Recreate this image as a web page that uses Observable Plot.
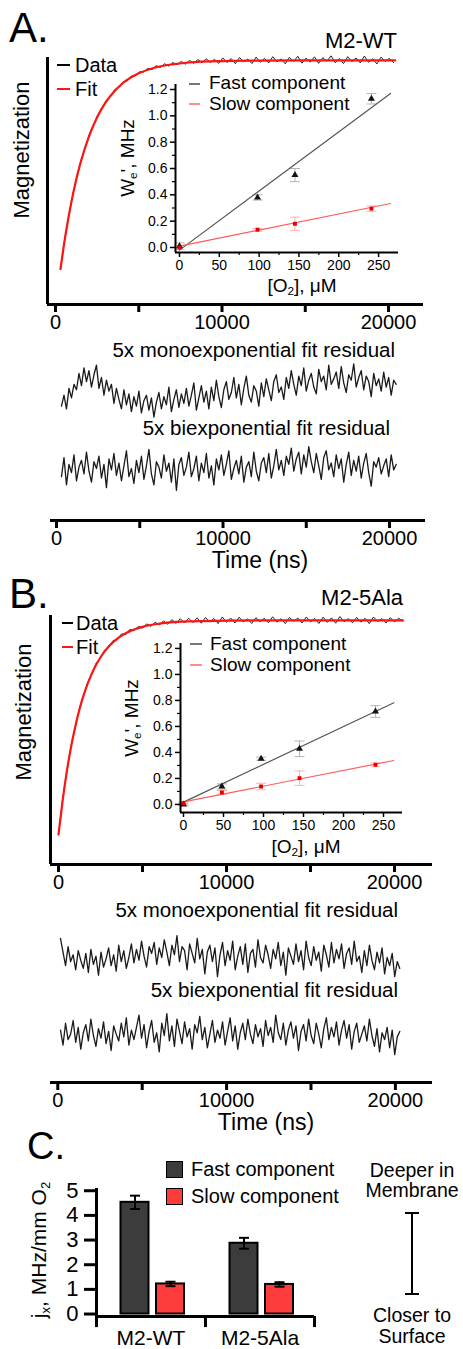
<!DOCTYPE html>
<html><head><meta charset="utf-8">
<script src="https://cdn.jsdelivr.net/npm/d3@7"></script>
<script src="https://cdn.jsdelivr.net/npm/@observablehq/plot@0.6"></script>
<style>
html,body{margin:0;padding:0;background:#fff;}
#fig{position:relative;width:463px;height:1349px;overflow:hidden;font-family:"Liberation Sans",Arial,sans-serif;color:#000;background:#fff;}
#fig svg{position:absolute;}
.t{position:absolute;white-space:nowrap;line-height:0.82;}
.t sub{font-size:0.62em;vertical-align:-0.25em;line-height:0;}
.ln{position:absolute;}
</style></head><body><div id="fig"></div>
<script>
// ---------------- DATA ----------------
const timeTicks = [0, 5000, 10000, 15000, 20000];
const o2Ticks = [0, 50, 100, 150, 200, 250];
const o2Minor = [25, 75, 125, 175, 225];
const weTicks = [0, 0.2, 0.4, 0.6, 0.8, 1.0, 1.2];
const weMinor = [0.1, 0.3, 0.5, 0.7, 0.9, 1.1];
const jxTicks = [0, 1, 2, 3, 4, 5];

// Panel A : magnetization recovery (normalized)
const dataStartA = 300, dataStepA = 250;
const dataA = [0.000,0.140,0.252,0.362,0.444,0.527,0.585,0.650,0.690,0.741,
0.768,0.808,0.826,0.860,0.869,0.897,0.901,0.925,0.926,0.946,
0.944,0.962,0.956,0.975,0.966,0.984,0.973,0.990,0.979,0.995,
0.982,1.000,0.986,1.004,0.989,1.008,0.990,1.005,0.986,1.012,
0.990,1.009,0.984,1.014,0.993,1.006,0.985,1.016,0.991,1.010,
0.988,1.018,0.993,1.007,0.984,1.015,0.995,1.020,0.987,1.011,
0.992,1.017,0.986,1.013,0.996,1.022,0.989,1.009,0.985,1.018,
0.994,1.012,0.988,1.021,0.991,1.008,0.983,1.016,0.995,1.010,
0.990];
const fitTimeA = [300,500,750,1000,1250,1500,2000,2500,3000,3500,4000,5000,6000,7000,8000,10000,12000,15000,20400];
const fitMagA = [0,0.112,0.234,0.339,0.430,0.508,0.634,0.728,0.798,0.849,0.888,0.938,0.966,0.981,0.990,0.997,0.999,1,1];

// Panel A inset
const o2A = [0, 98, 145, 241];
const fastA = [0.01, 0.38, 0.55, 1.13];
const fastErrA = [0.025, 0.02, 0.05, 0.04];
const slowA = [0.0, 0.135, 0.18, 0.295];
const slowErrA = [0.015, 0.01, 0.05, 0.02];
const fitO2A = [0, 265];
const fastFitA = [-0.02, 1.17];
const slowFitA = [0.01, 0.334];

// Panel A residuals (5x, arbitrary units)
const resStartA = 300, resStepA = 150;
const resMonoA = [-10,-2,-12,3,-4,6,2,14,5,18,
8,16,4,13,20,3,11,-2,9,1,
6,-8,3,-5,-12,2,-9,-1,-14,-3,
-10,1,-15,-6,-2,-13,-4,-18,-7,0,
-12,-3,-9,4,-14,-5,2,-11,-1,-8,
3,-10,-2,7,-13,-4,5,-7,1,-12,
4,-6,9,-3,-11,2,8,-5,0,11,
-4,6,-9,3,12,-2,-7,5,1,-10,
7,-3,10,2,-6,8,13,0,4,-5,
11,3,16,6,-2,12,5,18,1,9,
14,4,-1,17,8,12,2,20,6,10,
15,3,19,7,0,13,9,21,4,11,
16,2,12,8,-3,14,5,10,1,15,
4,11,-2,9,6];
const resBiA = [-6,8,-12,3,-3,10,-9,1,6,-4,
12,-2,-10,5,0,9,-7,3,-14,7,
-1,11,-5,4,-9,2,13,-6,0,-11,
6,-3,9,-8,2,14,-4,-12,5,1,
-7,10,-2,4,-10,7,-16,3,8,-5,
1,12,-6,0,9,-9,4,-3,11,-7,
2,-12,7,-1,10,-5,3,13,-8,0,
6,-4,9,-10,1,5,-6,12,-2,-9,
4,8,-3,11,-7,2,14,-1,6,-5,
9,3,15,-2,7,12,-4,10,1,16,
5,-3,11,2,-8,8,13,-1,4,-6,
10,0,7,-10,3,12,-5,6,-2,9,
-7,4,11,-3,-13,5,1,8,-4,2,
7,-6,10,-1,3];

// Panel B : magnetization recovery
const dataStartB = 0, dataStepB = 250;
const dataB = [0.000,0.165,0.293,0.415,0.500,0.590,0.648,0.714,0.750,0.802,
0.823,0.862,0.874,0.906,0.910,0.937,0.934,0.958,0.952,0.972,
0.964,0.984,0.972,0.992,0.978,0.998,0.982,1.004,0.986,1.008,
0.988,1.010,0.990,1.012,0.987,1.014,0.992,1.009,0.985,1.016,
0.991,1.011,0.988,1.015,0.993,1.007,0.986,1.013,0.994,1.010,
0.989,1.017,0.992,1.008,0.985,1.014,0.996,1.011,0.988,1.016,
0.993,1.009,0.986,1.015,0.991,1.012,0.987,1.018,0.994,1.008,
0.989,1.014,0.992,1.010,0.985,1.016,0.995,1.009,0.988,1.013,
0.993,1.010,0.996];
const fitTimeB = [0,250,500,750,1000,1250,1500,2000,2500,3000,3500,4000,5000,6000,7000,8000,10000,12000,15000,20500];
const fitMagB = [0,0.161,0.297,0.410,0.505,0.585,0.652,0.755,0.828,0.879,0.915,0.940,0.970,0.985,0.993,0.996,0.999,1,1,1];

// Panel B inset
const o2B = [0, 48, 97, 145, 240];
const fastB = [0.0, 0.138, 0.352, 0.428, 0.715];
const fastErrB = [0.01, 0.02, 0.012, 0.06, 0.045];
const slowB = [0.01, 0.092, 0.138, 0.202, 0.305];
const slowErrB = [0.01, 0.015, 0.025, 0.055, 0.015];
const fitO2B = [0, 263];
const fastFitB = [0.018, 0.782];
const slowFitB = [0.02, 0.338];

// Panel B residuals
const resStartB = 160, resStepB = 150;
const resMonoB = [14,4,-6,8,-3,2,-9,5,-2,-8,
3,-11,6,-5,1,-13,4,-7,-1,7,
-6,2,-10,9,-3,5,-8,0,10,-4,
6,-2,12,1,-7,8,3,11,-5,7,
0,13,4,-6,9,2,16,-3,8,5,
-9,10,3,-4,14,-1,6,-12,4,9,
-3,7,-14,2,11,-6,5,-2,12,-9,
1,8,-5,10,-11,3,6,-7,13,0,
-4,9,2,-8,6,-1,11,-6,4,-13,
7,1,-5,10,-3,5,-9,12,0,-6,
8,-2,4,-10,9,2,-7,11,-4,6,
-1,10,-8,3,7,-5,12,-3,1,-11,
5,-6,9,-2,-9,4,-4,7,-12,0,
-6,3,-14,-3,-8];
const resBiB = [4,-7,9,-3,1,11,-5,6,-10,2,
8,-4,12,0,-8,5,-2,10,-6,3,
-11,7,1,-4,9,-1,13,-7,4,-3,
6,15,-2,8,-9,3,11,-5,2,-12,
9,0,16,-4,7,-8,12,3,-6,10,
-1,5,-10,8,2,14,-3,6,-9,1,
11,-5,4,-2,10,-7,3,13,-4,7,
-10,2,9,-3,12,1,-6,8,-1,5,
-8,11,0,6,-5,15,2,-3,9,-7,
4,10,-2,7,-11,3,8,-4,12,0,
-6,9,1,-9,5,13,-3,6,-1,10,
-7,4,11,-2,8,-10,3,9,-5,1,
7,-4,12,0,-8,5,-12,2,-3,6,
-9,4,-14,-1,3];

// Panel C : j_x bars
const constructs = ["M2-WT", "M2-5Ala"];
const jxFast = [4.53, 2.87];
const jxFastErr = [0.27, 0.22];
const jxSlow = [1.22, 1.2];
const jxSlowErr = [0.09, 0.09];

// ---------------- DRAWING ----------------
const fig = document.getElementById("fig");
const FONT = '"Liberation Sans", Arial, sans-serif';
const S = {fontFamily: FONT, background: "none", overflow: "visible"};
const cap = {draw(ctx, size) { const r = Math.sqrt(size / Math.PI); ctx.moveTo(-r, 0); ctx.lineTo(r, 0); }};

function place(svg, left, top) {
  svg.style.position = "absolute"; svg.style.left = left + "px"; svg.style.top = top + "px";
  fig.appendChild(svg);
}
function txt(html, x, y, size, anchor = "start", rotate = false, extra = "") {
  const d = document.createElement("div");
  d.className = "t"; d.innerHTML = html;
  const ax = anchor === "start" ? 0 : anchor === "middle" ? -50 : -100;
  d.style.cssText = `left:${x}px;top:${y}px;font-size:${size}px;transform:translate(${rotate ? -50 : ax}%,-50%)${rotate ? " rotate(-90deg)" : ""};${extra}`;
  fig.appendChild(d);
}
function box(x, y, w, h, css) {
  const d = document.createElement("div");
  d.className = "ln";
  d.style.cssText = `left:${x}px;top:${y}px;width:${w}px;height:${h}px;${css}`;
  fig.appendChild(d);
}

function mainPlot(vals, t0, dt, fitT, fitM, xDomain, yDomain, w, m) {
  const D = vals.map((v, i) => ({t: t0 + i * dt, m: v}));
  const Fi = fitT.map((t, i) => ({t, m: fitM[i]}));
  return Plot.plot({
    width: w, height: 300, ...m,
    x: {domain: xDomain}, y: {domain: yDomain, axis: null},
    style: {...S, fontSize: "20px"},
    marks: [
      Plot.line(D, {x: "t", y: "m", stroke: "#222", strokeWidth: 1}),
      Plot.line(Fi, {x: "t", y: "m", stroke: "#ff1414", strokeWidth: 2.2, curve: "monotone-x"}),
      Plot.ruleX([xDomain[0]], {stroke: "#000", strokeWidth: 3}),
      Plot.ruleY([yDomain[0]], {stroke: "#000", strokeWidth: 3}),
      Plot.axisX({ticks: timeTicks, tickFormat: d => d % 10000 === 0 ? String(d) : "", tickSize: 8, tickPadding: 2, fontSize: 20, strokeWidth: 3, label: null})
    ]
  });
}

function insetPlot(o2, fast, fastErr, slow, slowErr, fitO2, fastFit, slowFit, xDomain, yDomain, m) {
  const F = o2.map((x, i) => ({x, y: fast[i], e: fastErr[i]}));
  const L = o2.map((x, i) => ({x, y: slow[i], e: slowErr[i]}));
  const fitF = fitO2.map((x, i) => ({x, y: fastFit[i]}));
  const fitS = fitO2.map((x, i) => ({x, y: slowFit[i]}));
  const err = (D, c) => [
    Plot.ruleX(D, {x: "x", y1: d => d.y - d.e, y2: d => d.y + d.e, stroke: c, strokeWidth: 1}),
    Plot.dot(D, {x: "x", y: d => d.y + d.e, symbol: cap, r: 5, stroke: c, strokeWidth: 1, fill: "none"}),
    Plot.dot(D, {x: "x", y: d => d.y - d.e, symbol: cap, r: 5, stroke: c, strokeWidth: 1, fill: "none"})
  ];
  return Plot.plot({
    width: 300, height: 230, ...m,
    x: {domain: xDomain}, y: {domain: yDomain},
    style: {...S, fontSize: "14px"},
    marks: [
      ...err(F, "#b4b4b4"), ...err(L, "#ffb0b0"),
      Plot.line(fitF, {x: "x", y: "y", stroke: "#555", strokeWidth: 1.2}),
      Plot.line(fitS, {x: "x", y: "y", stroke: "#ff5c5c", strokeWidth: 1.2}),
      Plot.dot(F, {x: "x", y: "y", symbol: "triangle", r: 2.6, fill: "#111"}),
      Plot.dot(L, {x: "x", y: "y", symbol: "square", r: 2.2, fill: "#e40000"}),
      Plot.ruleX([xDomain[0]], {stroke: "#000", strokeWidth: 2}),
      Plot.ruleY([yDomain[0]], {stroke: "#000", strokeWidth: 2}),
      Plot.axisY({ticks: weTicks, tickFormat: d3.format(".1f"), tickSize: 5, tickPadding: 3, fontSize: 14, strokeWidth: 1.5, label: null}),
      Plot.axisY({ticks: weMinor, tickFormat: () => "", tickSize: 3, strokeWidth: 1.2, label: null}),
      Plot.axisX({ticks: o2Ticks, tickSize: 5, tickPadding: 3, fontSize: 14, strokeWidth: 1.5, label: null}),
      Plot.axisX({ticks: o2Minor, tickFormat: () => "", tickSize: 3, strokeWidth: 1.2, label: null})
    ]
  });
}

function tracePlot(vals, t0, dt, xDomain, w, ml, mr) {
  const R = vals.map((v, i) => ({t: t0 + i * dt, v}));
  return Plot.plot({
    width: w, height: 60, marginLeft: ml, marginRight: mr, marginTop: 0, marginBottom: 0,
    x: {domain: xDomain, axis: null}, y: {domain: [-22, 22], axis: null}, style: S,
    marks: [Plot.line(R, {x: "t", y: "v", stroke: "#1a1a1a", strokeWidth: 1.3})]
  });
}

function timeAxis(xDomain, w, ml, mr) {
  return Plot.plot({
    width: w, height: 40, marginLeft: ml, marginRight: mr, marginTop: 10, marginBottom: 29,
    x: {domain: xDomain}, y: {domain: [0, 1], axis: null}, style: {...S, fontSize: "20px"},
    marks: [
      Plot.ruleY([0], {stroke: "#000", strokeWidth: 3}),
      Plot.axisX({ticks: timeTicks, tickFormat: d => d % 10000 === 0 ? String(d) : "", tickSize: 8, tickPadding: 2, fontSize: 20, strokeWidth: 3, label: null})
    ]
  });
}

// ===== Panel A =====
const xA = [-480, 22100], xRA = [-360, 22160];
place(mainPlot(dataA, dataStartA, dataStepA, fitTimeA, fitMagA, xA, [-0.17, 1.014], 440,
  {marginLeft: 47, marginRight: 17, marginTop: 7, marginBottom: 46}), 0, 50);
place(insetPlot(o2A, fastA, fastErrA, slowA, slowErrA, fitO2A, fastFitA, slowFitA, [-5, 275], [-0.038, 1.238],
  {marginLeft: 55, marginRight: 22, marginTop: 14, marginBottom: 48}), 120, 70);
place(tracePlot(resMonoA, resStartA, resStepA, xRA, 440, 50, 15), 0, 362);
place(tracePlot(resBiA, resStartA, resStepA, xRA, 440, 50, 15), 0, 438);
place(timeAxis(xRA, 440, 50, 15), 0, 509);

txt("A.", 9, 28, 42);
txt("M2-WT", 397, 41, 22, "end");
txt("Magnetization", 22, 150, 22, "middle", true);
box(57, 64, 13, 2, "background:#000");
txt("Data", 75, 65, 20);
box(57, 88, 13, 2, "background:#ff1414");
txt("Fit", 75, 89, 20);
box(189, 83, 11, 1.5, "background:#777");
txt("Fast component", 209, 83, 19);
box(189, 103, 11, 1.5, "background:#ff8c8c");
txt("Slow component", 209, 104, 19);
txt("W<sub>e</sub>', MHz", 128, 158, 19, "middle", true);
txt("[O<sub>2</sub>], μM", 302, 286, 19, "middle");
txt("5x monoexponential fit residual", 395, 350, 20.5, "end");
txt("5x biexponential fit residual", 390, 428, 20.5, "end");
txt("Time (ns)", 260, 560, 23, "middle");

// ===== Panel B =====
const xB = [-476, 22262], xRB = [-432, 22198];
place(mainPlot(dataB, dataStartB, dataStepB, fitTimeB, fitMagB, xB, [-0.14, 1.023], 445,
  {marginLeft: 50, marginRight: 13, marginTop: 10, marginBottom: 41}), 0, 605);
place(insetPlot(o2B, fastB, fastErrB, slowB, slowErrB, fitO2B, fastFitB, slowFitB, [-3.75, 273.75], [-0.062, 1.238],
  {marginLeft: 55, marginRight: 23, marginTop: 13, marginBottom: 48}), 125, 630);
place(tracePlot(resMonoB, resStartB, resStepB, xRB, 445, 50, 13), 0, 927);
place(tracePlot(resBiB, resStartB, resStepB, xRB, 445, 50, 13), 0, 1005);
place(timeAxis(xRB, 445, 50, 13), 0, 1071);

txt("B.", 9, 594, 42);
txt("M2-5Ala", 403, 598, 22, "end");
txt("Magnetization", 24, 712, 22, "middle", true);
box(62, 622, 11, 2, "background:#000");
txt("Data", 76, 623, 20);
box(62, 646, 11, 2, "background:#ff1414");
txt("Fit", 76, 647, 20);
box(190, 643, 12, 1.5, "background:#777");
txt("Fast component", 210, 644, 19);
box(190, 664, 12, 1.5, "background:#ff8c8c");
txt("Slow component", 210, 665, 19);
txt("W<sub>e</sub>', MHz", 132, 718, 19, "middle", true);
txt("[O<sub>2</sub>], μM", 306, 847, 19, "middle");
txt("5x monoexponential fit residual", 398, 910, 20.5, "end");
txt("5x biexponential fit residual", 398, 990, 20.5, "end");
txt("Time (ns)", 266, 1122, 23, "middle");

// ===== Panel C =====
const fastRecs = constructs.map((g, i) => ({g, v: jxFast[i], e: jxFastErr[i]}));
const slowRecs = constructs.map((g, i) => ({g, v: jxSlow[i], e: jxSlowErr[i]}));
const barErr = (D, dx) => [
  Plot.ruleX(D, {x: "g", y1: d => d.v - d.e, y2: d => d.v + d.e, dx, stroke: "#000", strokeWidth: 2}),
  Plot.dot(D, {x: "g", y: d => d.v + d.e, dx, symbol: cap, r: 5, stroke: "#000", strokeWidth: 2, fill: "none"}),
  Plot.dot(D, {x: "g", y: d => d.v - d.e, dx, symbol: cap, r: 5, stroke: "#000", strokeWidth: 2, fill: "none"})
];
const yC = [-0.1, 5.05];
place(Plot.plot({
  width: 330, height: 175, marginLeft: 96, marginRight: 16, marginTop: 19, marginBottom: 29,
  x: {domain: constructs, padding: 0}, y: {domain: yC},
  style: {...S, fontSize: "21px"},
  marks: [
    Plot.barY(fastRecs, {x: "g", y: "v", dx: -16, insetLeft: 40.5, insetRight: 40.5, fill: "#3c3c3c", stroke: "#000", strokeWidth: 2}),
    Plot.barY(slowRecs, {x: "g", y: "v", dx: 19.5, insetLeft: 40.5, insetRight: 40.5, fill: "#ff3c3c", stroke: "#000", strokeWidth: 2}),
    ...barErr(fastRecs, -16), ...barErr(slowRecs, 19.5),
    Plot.frame({anchor: "left", stroke: "#000", strokeWidth: 3}),
    Plot.ruleY([yC[0]], {stroke: "#000", strokeWidth: 3}),
    Plot.ruleX(constructs, {x: d => d, y1: yC[0], y2: -0.55, dx: -54.5, stroke: "#000", strokeWidth: 3}),
    Plot.ruleX(constructs.slice(-1), {x: d => d, y1: yC[0], y2: -0.55, dx: 54.5, stroke: "#000", strokeWidth: 3}),
    Plot.axisY({ticks: jxTicks, tickFormat: d3.format("d"), tickSize: 12, tickPadding: 6, fontSize: 22, strokeWidth: 3, label: null}),
    Plot.axisX({tickSize: 0, tickPadding: 14, fontSize: 21, label: null})
  ]
}), 0, 1170);

txt("C.", 27, 1147, 38);
box(166, 1161, 15, 15, "background:#3c3c3c;border:1.5px solid #000");
txt("Fast component", 191, 1169, 20);
box(166, 1188, 15, 15, "background:#ff3c3c;border:1.5px solid #000");
txt("Slow component", 191, 1196, 20);
txt("j<sub>x</sub>, MHz/mm O<sub>2</sub>", 39, 1250, 21, "middle", true);
txt("Deeper in", 412, 1170, 19.5, "middle");
txt("Membrane", 412, 1190, 19.5, "middle");
txt("Closer to", 412, 1315, 19.5, "middle");
txt("Surface", 412, 1336, 19.5, "middle");
box(411, 1213, 2, 81, "background:#000");
box(405, 1212, 14, 2, "background:#000");
box(405, 1293, 14, 2, "background:#000");
</script></body></html>
